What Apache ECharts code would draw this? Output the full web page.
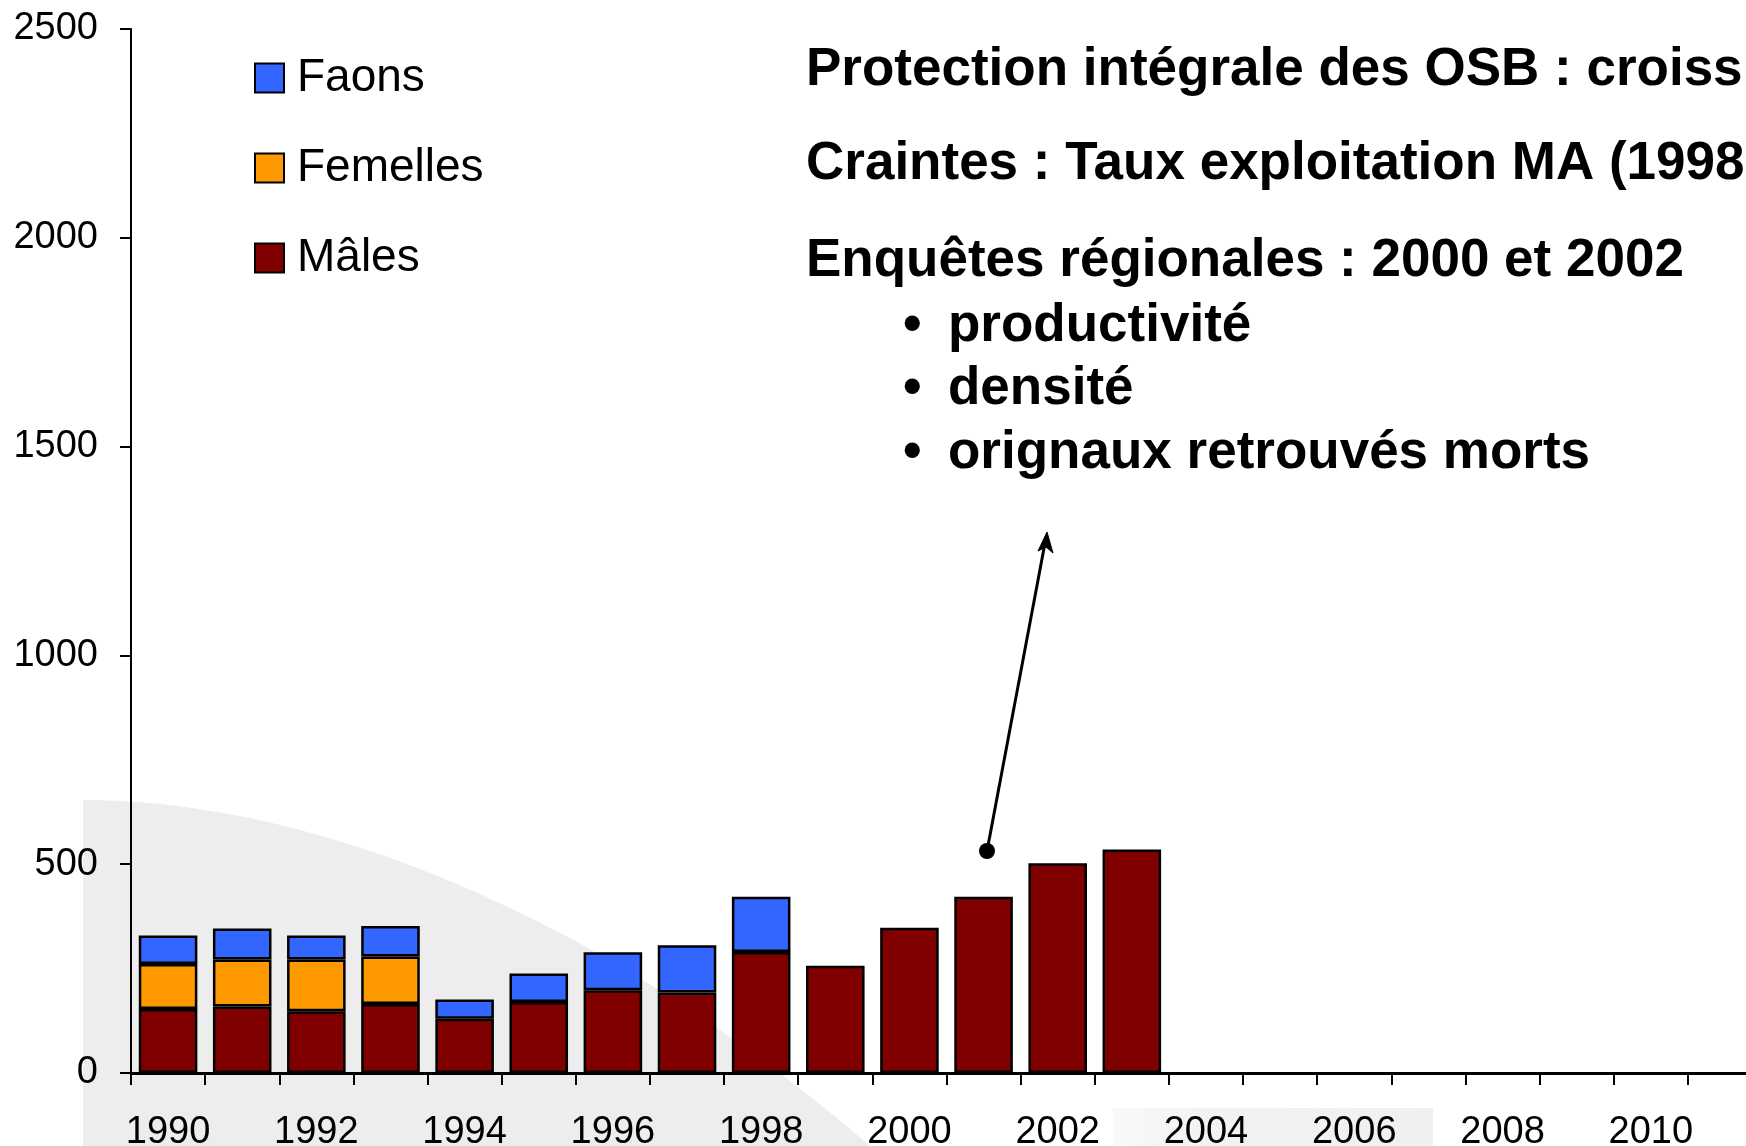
<!DOCTYPE html>
<html>
<head>
<meta charset="utf-8">
<script src="https://cdn.jsdelivr.net/npm/echarts@6/dist/echarts.min.js"></script>
<style>
html,body{margin:0;padding:0;background:#fff;overflow:hidden;width:1746px;height:1146px;}
#chart{width:1800px;height:1146px;}
</style>
</head>
<body>
<div id="chart"></div>
<script>
// ---- data ----
var years = ['1990','1991','1992','1993','1994','1995','1996','1997','1998','1999','2000','2001','2002','2003','2004','2005','2006','2007','2008','2009','2010','2011'];
var males    = [153,159,148,165,130,170,198,193,290,257,348,422,502,535];
var femelles = [108,113,124,114,null,null,null,null,null,null,null,null,null,null];
var faons    = [68,74,57,73,46,68,91,113,132,null,null,null,null,null];
var yTicks = [0,500,1000,1500,2000,2500];
var seriesNames = ['Mâles','Femelles','Faons'];
var legendOrder = ['Faons','Femelles','Mâles'];
var noteLines = [
  'Protection intégrale des OSB : croiss',
  'Craintes : Taux exploitation MA (1998',
  'Enquêtes régionales : 2000 et 2002'
];
var bulletLines = ['productivité','densité','orignaux retrouvés morts'];

var colors = {'Mâles':'#800000','Femelles':'#FF9900','Faons':'#3366FF'};
var seriesData = {'Mâles':males,'Femelles':femelles,'Faons':faons};

var chart = echarts.init(document.getElementById('chart'), null, {renderer:'canvas'});
var FONT = '"Liberation Sans", Arial, sans-serif';

// decorative background swoosh (cubic curve outline)
function bezierPts(p0,p1,p2,p3,n){
  var pts=[];
  for(var i=0;i<=n;i++){
    var t=i/n, u=1-t;
    pts.push([u*u*u*p0[0]+3*u*u*t*p1[0]+3*u*t*t*p2[0]+t*t*t*p3[0],
              u*u*u*p0[1]+3*u*u*t*p1[1]+3*u*t*t*p2[1]+t*t*t*p3[1]]);
  }
  return pts;
}
var swoosh = bezierPts([83,800],[330,800],[620,930],[870,1146],40);
swoosh.push([83,1146]);

var graphics = [
  {type:'polygon', z:-10, silent:true, shape:{points:swoosh}, style:{fill:'#ededed'}},
  {type:'rect', z:-10, silent:true,
   shape:{x:1113,y:1108,width:320,height:40},
   style:{fill:new echarts.graphic.LinearGradient(0,0,1,0,[{offset:0,color:'#f9f9f9'},{offset:0.3,color:'#f2f2f2'},{offset:1,color:'#f0f0f0'}])}}
];
var lineY = [74,168,265];
noteLines.forEach(function(t,i){
  graphics.push({type:'text', left:806, top:lineY[i]-30, z:10,
    style:{text:t, font:'bold 53px '+FONT, fill:'#000'}});
});
var bulletY = [330,393,457];
bulletLines.forEach(function(t,i){
  graphics.push({type:'text', left:903, top:bulletY[i]-30, z:10,
    style:{text:'•', font:'bold 53px '+FONT, fill:'#000'}});
  graphics.push({type:'text', left:948, top:bulletY[i]-30, z:10,
    style:{text:t, font:'bold 53px '+FONT, fill:'#000'}});
});
// arrow annotation
graphics.push({type:'line', z:10, shape:{x1:987,y1:851,x2:1045,y2:543}, style:{stroke:'#000',lineWidth:3}});
graphics.push({type:'circle', z:10, shape:{cx:987,cy:851,r:8}, style:{fill:'#000'}});
graphics.push({type:'polygon', z:10, shape:{points:[[1047,532],[1053,553],[1046,547],[1038,551]]}, style:{fill:'#000',stroke:'#000',lineWidth:1}});

var option = {
  backgroundColor:'#ffffff',
  animation:false,
  textStyle:{fontFamily:FONT},
  grid:{left:131, top:29, bottom:73, width:1631, containLabel:false, outerBoundsMode:'none'},
  legend:{
    orient:'vertical', left:254, top:55, padding:0,
    data:legendOrder, icon:'rect',
    itemWidth:29, itemHeight:29, itemGap:44,
    textStyle:{fontSize:46, color:'#000', fontFamily:FONT, padding:[0,0,0,8]}
  },
  xAxis:{
    type:'category', data:years,
    axisLine:{lineStyle:{color:'#000',width:3}},
    axisTick:{show:true, alignWithLabel:false, interval:0, length:12, lineStyle:{color:'#000',width:2}},
    axisLabel:{interval:1, fontSize:38, color:'#000', margin:41, fontFamily:FONT}
  },
  yAxis:{
    type:'value', min:0, max:2500, interval:500,
    axisLine:{show:true, lineStyle:{color:'#000',width:2}},
    axisTick:{show:true, length:11, lineStyle:{color:'#000',width:2}},
    axisLabel:{fontSize:38, color:'#000', margin:33, fontFamily:FONT,
      formatter:function(v){ return String(v); }},
    splitLine:{show:false}
  },
  graphic:graphics,
  series: seriesNames.map(function(n){
    return {
      name:n, type:'bar', stack:'total', data:seriesData[n],
      barCategoryGap:'21%',
      itemStyle:{color:colors[n], borderColor:'#000', borderWidth:2.5}
    };
  })
};
chart.setOption(option);
</script>
</body>
</html>
